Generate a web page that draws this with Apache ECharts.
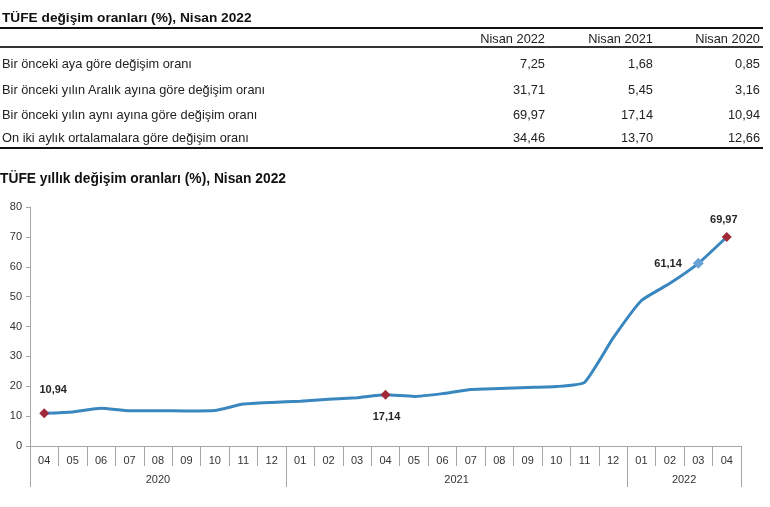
<!DOCTYPE html>
<html>
<head>
<meta charset="utf-8">
<script src="https://cdn.jsdelivr.net/npm/echarts@6/dist/echarts.min.js"></script>
<style>
  html, body { margin: 0; padding: 0; background: #fff; }
  body { width: 770px; height: 507px; position: relative; overflow: hidden; font-family: "Liberation Sans", Arial, sans-serif; color: #222; }
  #chart { position: absolute; left: 0; top: 0; width: 770px; height: 507px; }
  #table { position: absolute; left: 0; top: 0; width: 770px; height: 160px; z-index: 2; }
  .t { position: absolute; font-size: 12.8px; line-height: 15px; white-space: nowrap; }
  .r { text-align: right; }
  .hl { position: absolute; left: 0; width: 763px; background: #111; }
</style>
</head>
<body>
<div id="chart"></div>
<div id="table"></div>
<script>
// ---- Table data ----
var tableTitle = 'TÜFE değişim oranları (%), Nisan 2022';
var tableColumns = ['Nisan 2022', 'Nisan 2021', 'Nisan 2020'];
var tableRows = [
  'Bir önceki aya göre değişim oranı',
  'Bir önceki yılın Aralık ayına göre değişim oranı',
  'Bir önceki yılın aynı ayına göre değişim oranı',
  'On iki aylık ortalamalara göre değişim oranı'
];
var tableNisan2022 = ['7,25', '31,71', '69,97', '34,46'];
var tableNisan2021 = ['1,68', '5,45', '17,14', '13,70'];
var tableNisan2020 = ['0,85', '3,16', '10,94', '12,66'];

// ---- Chart data ----
var chartTitle = 'TÜFE yıllık değişim oranları (%), Nisan 2022';
var months = ['04','05','06','07','08','09','10','11','12',
              '01','02','03','04','05','06','07','08','09','10','11','12',
              '01','02','03','04'];
var years = ['2020', '2021', '2022'];
var monthsPerYear = [9, 12, 4];
var annualChange = [10.94, 11.39, 12.62, 11.76, 11.77, 11.75, 11.89, 14.03, 14.60,
                    14.97, 15.61, 16.19, 17.14, 16.59, 17.53, 18.95, 19.25, 19.58, 19.89, 21.31, 36.08,
                    48.69, 54.44, 61.14, 69.97];
var labelledIndices = [0, 12, 23, 24];
var yTicks = [0, 10, 20, 30, 40, 50, 60, 70, 80];

// ---- Build the table (HTML) ----
(function () {
  var tb = document.getElementById('table');
  function add(html, cls, style) {
    var d = document.createElement('div');
    d.className = cls;
    d.setAttribute('style', style);
    d.textContent = html;
    tb.appendChild(d);
  }
  add(tableTitle, 't', 'left:2px;top:10px;font-weight:bold;font-size:13.7px;line-height:16px;color:#111;');
  add('', 'hl', 'top:27px;height:2px;');
  add('', 'hl', 'top:46px;height:1.5px;background:#333;');
  add('', 'hl', 'top:147px;height:2px;');
  var rights = [545, 653, 760];
  tableColumns.forEach(function (c, i) {
    add(c, 't r', 'right:' + (770 - rights[i]) + 'px;top:31px;');
  });
  var rowY = [55.5, 81.5, 107, 130];
  var cols = [tableNisan2022, tableNisan2021, tableNisan2020];
  tableRows.forEach(function (r, j) {
    add(r, 't', 'left:2px;top:' + rowY[j] + 'px;');
    cols.forEach(function (col, i) {
      add(col[j], 't r', 'right:' + (770 - rights[i]) + 'px;top:' + rowY[j] + 'px;');
    });
  });
})();

// ---- Build the chart ----
var red = '#A02A3C';
var blue = '#3A87BF';
var axisGrey = '#A6A6A6';

var labelCfg = {
  0:  { position: 'top', distance: 13, offset: [9, 0], color: red, size: 10 },
  12: { position: 'bottom', distance: 12, offset: [1, 0], color: red, size: 10 },
  23: { position: 'left', distance: 11, offset: [0, 1], color: '#6BA3D6', size: 11 },
  24: { position: 'top', distance: 6, offset: [-3, 0], color: red, size: 10 }
};

var seriesData = annualChange.map(function (v, i) {
  if (labelledIndices.indexOf(i) < 0) return v;
  var c = labelCfg[i];
  return {
    value: v,
    symbol: 'diamond',
    symbolSize: c.size,
    itemStyle: { color: c.color },
    label: {
      show: true,
      position: c.position,
      distance: c.distance,
      offset: c.offset,
      formatter: function (p) { return p.value.toFixed(2).replace('.', ','); },
      fontFamily: 'Liberation Sans',
      fontSize: 11,
      fontWeight: 'bold',
      color: '#262626'
    }
  };
});

// Year axis built at half-month resolution (boundaryGap false)
var yearAxisData = [];
var yearTickIdx = [0];
var yearLabelIdx = {};
(function () {
  var total = months.length * 2 + 1;
  for (var k = 0; k < total; k++) yearAxisData.push('');
  var s = 0;
  monthsPerYear.forEach(function (n, i) {
    var centerHalf = s * 2 + n; // center of the year's span in half-month units
    yearAxisData[centerHalf] = years[i];
    yearLabelIdx[centerHalf] = true;
    s += n;
    yearTickIdx.push(s * 2);
  });
})();

var chart = echarts.init(document.getElementById('chart'), null, { renderer: 'canvas' });
chart.setOption({
  animation: false,
  backgroundColor: '#fff',
  title: {
    text: chartTitle,
    left: 0,
    top: 172,
    padding: 0,
    textStyle: { fontFamily: 'Liberation Sans', fontSize: 13.8, fontWeight: 'bold', color: '#111' }
  },
  grid: { left: 30, right: 29, top: 207, bottom: 61, containLabel: false },
  xAxis: [
    {
      type: 'category',
      data: months,
      boundaryGap: true,
      position: 'bottom',
      axisLine: { show: true, lineStyle: { color: axisGrey, width: 1 } },
      axisTick: { show: true, interval: 0, length: 20, lineStyle: { color: axisGrey } },
      axisLabel: { interval: 0, margin: 9, fontFamily: 'Liberation Sans', fontSize: 11, color: '#333' },
      splitLine: { show: false }
    },
    {
      type: 'category',
      data: yearAxisData,
      boundaryGap: false,
      position: 'bottom',
      axisLine: { show: false },
      axisTick: {
        show: true,
        length: 41,
        interval: function (idx) { return yearTickIdx.indexOf(idx) >= 0; },
        lineStyle: { color: axisGrey }
      },
      axisLabel: {
        show: true,
        margin: 28,
        interval: function (idx) { return !!yearLabelIdx[idx]; },
        fontFamily: 'Liberation Sans', fontSize: 11, color: '#333'
      },
      splitLine: { show: false }
    }
  ],
  yAxis: {
    type: 'value',
    min: yTicks[0],
    max: yTicks[yTicks.length - 1],
    interval: yTicks[1] - yTicks[0],
    axisLine: { show: true, lineStyle: { color: axisGrey } },
    axisTick: { show: true, length: 4, lineStyle: { color: axisGrey } },
    axisLabel: { margin: 8, fontFamily: 'Liberation Sans', fontSize: 11, color: '#333' },
    splitLine: { show: false }
  },
  series: [{
    type: 'line',
    xAxisIndex: 0,
    data: seriesData,
    smooth: 0.15,
    showSymbol: true,
    symbol: 'none',
    lineStyle: { color: blue, width: 3 },
    itemStyle: { color: blue },
    z: 3
  }]
});
</script>
</body>
</html>
